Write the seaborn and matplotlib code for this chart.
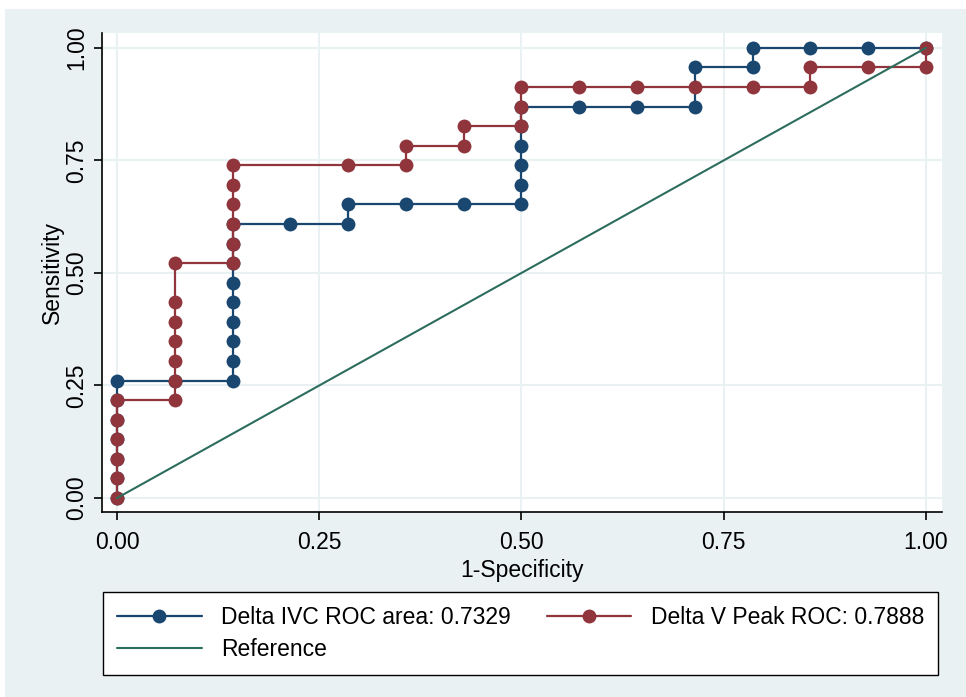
import matplotlib
matplotlib.use("Agg")
import matplotlib.pyplot as plt
import seaborn as sns
import pandas as pd
from matplotlib.patches import Rectangle

# ---- data ----
ivc_fpr = [0.0, 0.0, 0.0, 0.0, 0.0, 0.0, 0.0,
           0.0714,
           0.1429, 0.1429, 0.1429, 0.1429, 0.1429, 0.1429, 0.1429, 0.1429, 0.1429,
           0.2143,
           0.2857, 0.2857,
           0.3571, 0.4286,
           0.5, 0.5, 0.5, 0.5, 0.5, 0.5,
           0.5714, 0.6429, 0.7143, 0.7143, 0.7857, 0.7857, 0.8571, 0.9286, 1.0]
ivc_tpr = [0.0, 0.0435, 0.087, 0.1304, 0.1739, 0.2174, 0.2609,
           0.2609,
           0.2609, 0.3043, 0.3478, 0.3913, 0.4348, 0.4783, 0.5217, 0.5652, 0.6087,
           0.6087,
           0.6087, 0.6522,
           0.6522, 0.6522,
           0.6522, 0.6957, 0.7391, 0.7826, 0.8261, 0.8696,
           0.8696, 0.8696, 0.8696, 0.9565, 0.9565, 1.0, 1.0, 1.0, 1.0]

vp_fpr = [0.0, 0.0, 0.0, 0.0, 0.0, 0.0,
          0.0714, 0.0714, 0.0714, 0.0714, 0.0714, 0.0714, 0.0714,
          0.1429, 0.1429, 0.1429, 0.1429, 0.1429, 0.1429,
          0.2857,
          0.3571, 0.3571,
          0.4286, 0.4286,
          0.5, 0.5, 0.5,
          0.5714, 0.6429, 0.7143, 0.7857, 0.8571,
          0.8571, 0.9286, 1.0, 1.0]
vp_tpr = [0.0, 0.0435, 0.087, 0.1304, 0.1739, 0.2174,
          0.2174, 0.2609, 0.3043, 0.3478, 0.3913, 0.4348, 0.5217,
          0.5217, 0.5652, 0.6087, 0.6522, 0.6957, 0.7391,
          0.7391,
          0.7391, 0.7826,
          0.7826, 0.8261,
          0.8261, 0.8696, 0.913,
          0.913, 0.913, 0.913, 0.913, 0.913,
          0.9565, 0.9565, 0.9565, 1.0]

ref_x = [0.0, 1.0]
ref_y = [0.0, 1.0]

labels = ["Delta IVC ROC area: 0.7329", "Delta V Peak ROC: 0.7888", "Reference"]
ticks = [0.0, 0.25, 0.5, 0.75, 1.0]
tick_labels = ["0.00", "0.25", "0.50", "0.75", "1.00"]

BLUE = "#1a476f"
RED = "#90353b"
GREEN = "#2d6d5e"
BG = "#eaf1f3"
FS = 16.5

sns.set_theme(style="white")
plt.rcParams["font.family"] = ["Liberation Sans", "DejaVu Sans"]

fig = plt.figure(figsize=(9.66, 6.97), dpi=100)
fig.patch.set_facecolor("white")
fig.patches.append(Rectangle((5 / 966, 0), 1, (697 - 9) / 697, transform=fig.transFigure,
                             facecolor=BG, edgecolor="none", zorder=-10))

ax = fig.add_axes([102 / 966, (697 - 512) / 697, 840 / 966, 479 / 697])
ax.set_facecolor("white")

df_ivc = pd.DataFrame({"x": ivc_fpr, "y": ivc_tpr})
df_vp = pd.DataFrame({"x": vp_fpr, "y": vp_tpr})
df_ref = pd.DataFrame({"x": ref_x, "y": ref_y})

sns.lineplot(data=df_ivc, x="x", y="y", sort=False, estimator=None, ax=ax,
             color=BLUE, lw=1.6, marker="o", markersize=10, markeredgewidth=0,
             label=labels[0], zorder=3)
sns.lineplot(data=df_vp, x="x", y="y", sort=False, estimator=None, ax=ax,
             color=RED, lw=1.6, marker="o", markersize=10, markeredgewidth=0,
             label=labels[1], zorder=4)
sns.lineplot(data=df_ref, x="x", y="y", sort=False, estimator=None, ax=ax,
             color=GREEN, lw=1.5, label=labels[2], zorder=5)

ax.set_xlim(-0.0185, 1.0198)
ax.set_ylim(-0.031, 1.033)
ax.set_xticks(ticks)
ax.set_xticklabels(tick_labels)
ax.set_yticks(ticks)
ax.set_yticklabels(tick_labels, rotation=90, va="center")
ax.grid(True, color=BG, lw=1.5)
ax.set_axisbelow(True)

for s in ["top", "right"]:
    ax.spines[s].set_visible(False)
for s in ["left", "bottom"]:
    ax.spines[s].set_color("black")
    ax.spines[s].set_linewidth(1.2)

ax.tick_params(axis="both", which="both", direction="out", length=6, width=1.2,
               color="black", labelsize=FS, labelcolor="black", pad=4,
               bottom=True, left=True)
ax.tick_params(axis="x", pad=7.5)
ax.set_xlabel("1-Specificity", fontsize=FS, color="black", labelpad=3.5)
ax.set_ylabel("Sensitivity", fontsize=FS, color="black", labelpad=0.5)

ax.get_legend().remove()
h, l = ax.get_legend_handles_labels()
order = [0, 2, 1]
leg = fig.legend([h[i] for i in order], [l[i] for i in order], ncol=2,
                 loc="upper left", mode="expand",
                 bbox_to_anchor=(103 / 966, (697 - 592) / 697, 835 / 966, 0),
                 bbox_transform=fig.transFigure, frameon=True, fancybox=False,
                 edgecolor="black", facecolor="white", framealpha=1, fontsize=FS,
                 handlelength=3.7, handletextpad=0.85, labelspacing=0.4,
                 borderaxespad=0, borderpad=0.6, columnspacing=2.0)
leg.get_frame().set_linewidth(1.0)
for t in leg.get_texts():
    t.set_color("black")

fig.savefig("out.png", dpi=100, facecolor=fig.get_facecolor())
